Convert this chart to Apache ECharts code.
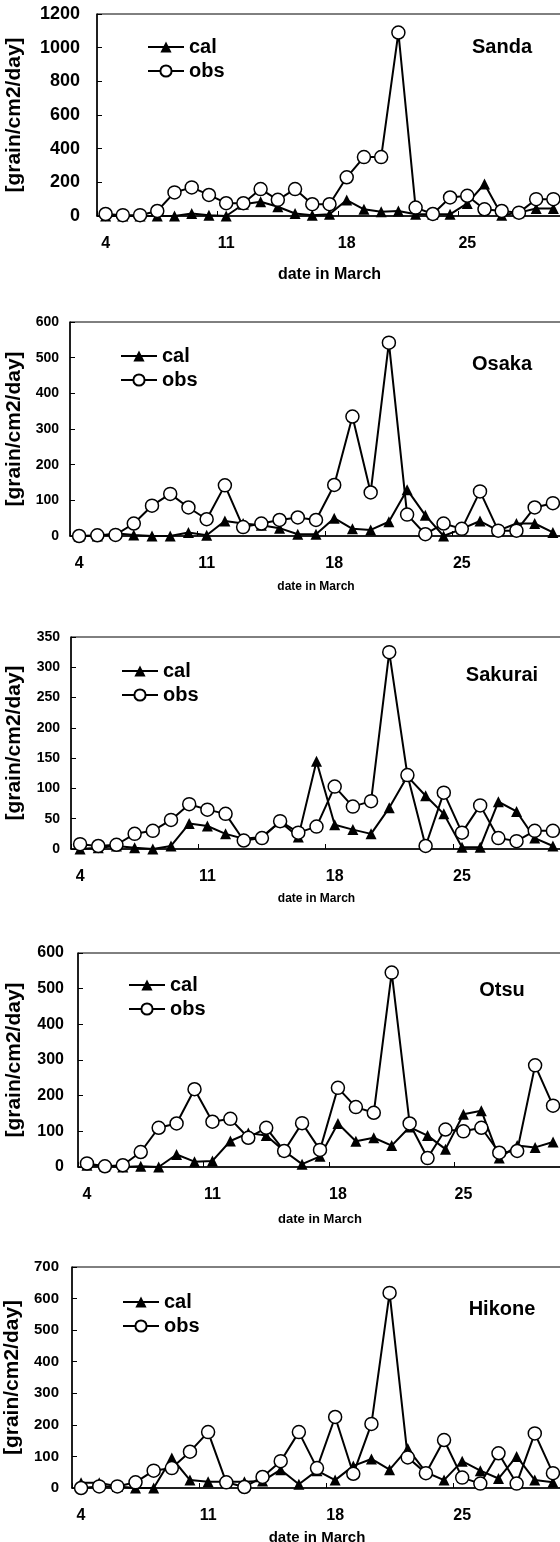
<!DOCTYPE html>
<html>
<head>
<meta charset="utf-8">
<script src="https://cdn.jsdelivr.net/npm/echarts@6/dist/echarts.min.js"></script>
<style>
html,body{margin:0;padding:0;background:#fff;}
#c{width:560px;height:1542px;}
</style>
</head>
<body>
<div id="c"></div>
<script>
// ---- data ----
const days = ['4','5','6','7','8','9','10','11','12','13','14','15','16','17','18','19','20','21','22','23','24','25','26','27','28','29','30'];
const stations = ['Sanda','Osaka','Sakurai','Otsu','Hikone'];
const yMaxes = [1200, 600, 350, 600, 700];
const yIntervals = [200, 100, 50, 100, 100];

const sandaCal = [0,0,0,0,0,15,5,0,70,85,55,15,5,10,95,40,25,30,10,10,10,75,190,5,20,45,45];
const sandaObs = [12,5,5,30,140,170,125,76,76,160,96,160,70,70,230,350,350,1090,50,12,110,120,40,30,20,100,100];

const osakaCal = [0,0,8,3,0,0,10,2,42,35,30,22,5,5,50,20,17,40,130,58,0,20,42,15,35,35,10];
const osakaObs = [0,2,3,35,85,118,80,47,142,25,35,45,52,45,143,335,122,542,60,5,35,20,125,15,15,80,92];

const sakuraiCal = [0,2,5,2,0,5,42,38,25,17,20,45,20,145,40,32,25,68,120,88,58,3,3,78,62,18,5];
const sakuraiObs = [8,5,7,25,30,48,74,65,58,14,18,46,27,37,103,70,79,325,122,5,93,27,72,18,13,30,30];

const otsuCal = [5,3,0,2,0,35,15,17,73,95,88,45,8,30,122,72,82,60,112,88,50,148,158,25,60,55,70];
const otsuObs = [10,2,5,42,110,122,218,127,135,82,110,45,123,48,222,168,152,545,122,25,105,100,110,40,45,285,172];

const hikoneCal = [17,17,5,0,0,95,25,20,20,20,22,58,12,55,25,70,92,58,125,50,25,85,55,30,100,25,18];
const hikoneObs = [0,5,5,18,55,63,115,177,18,3,35,85,177,63,225,45,203,618,97,47,152,33,14,110,14,173,47];

const calSets = [sandaCal, osakaCal, sakuraiCal, otsuCal, hikoneCal];
const obsSets = [sandaObs, osakaObs, sakuraiObs, otsuObs, hikoneObs];

// ---- layout ----
const FONT = '"Liberation Sans", Arial, sans-serif';
const L = [
  {left:97, top:14,   height:202, yFont:18, xFont:16, tFont:16, yMargin:17, xNameGap:51, yNameGap:72, legTop:37,  nameY:47},
  {left:70, top:322,  height:214, yFont:14, xFont:16, tFont:12, yMargin:11, xNameGap:45, yNameGap:45, legTop:346, nameY:364},
  {left:71, top:637,  height:212, yFont:14, xFont:16, tFont:12, yMargin:11, xNameGap:44, yNameGap:46, legTop:661, nameY:675},
  {left:78, top:953,  height:214, yFont:16, xFont:16, tFont:13, yMargin:14, xNameGap:46, yNameGap:53, legTop:975, nameY:990},
  {left:72, top:1267, height:221, yFont:15, xFont:16, tFont:15, yMargin:13, xNameGap:42, yNameGap:47, legTop:1292, nameY:1309}
];

const grid = [], xAxis = [], yAxis = [], series = [], legend = [], graphic = [];
L.forEach((p, i) => {
  grid.push({left:p.left, top:p.top, height:p.height, right:-2, containLabel:false, outerBoundsMode:'none',
    show:true, borderColor:'#000', borderWidth:1, backgroundColor:'transparent'});
  xAxis.push({
    type:'category', gridIndex:i, data:days, boundaryGap:true,
    name:'date in March', nameLocation:'middle', nameGap:p.xNameGap,
    nameTextStyle:{fontFamily:FONT, fontWeight:'bold', fontSize:p.tFont, color:'#000'},
    axisLine:{lineStyle:{color:'#000', width:1.5}},
    axisTick:{show:true, inside:true, interval:6, length:5, lineStyle:{color:'#000', width:1}},
    axisLabel:{interval:6, margin:20, fontFamily:FONT, fontWeight:'bold', fontSize:p.xFont, color:'#000'},
    splitLine:{show:false}
  });
  yAxis.push({
    type:'value', gridIndex:i, min:0, max:yMaxes[i], interval:yIntervals[i],
    name:'[grain/cm2/day]', nameLocation:'middle', nameRotate:90, nameGap:p.yNameGap,
    nameTextStyle:{fontFamily:FONT, fontWeight:'bold', fontSize:21, color:'#000'},
    axisLine:{show:true, lineStyle:{color:'#000', width:1.5}},
    axisTick:{show:true, inside:true, length:5, lineStyle:{color:'#000', width:1}},
    axisLabel:{margin:p.yMargin, fontFamily:FONT, fontWeight:'bold', fontSize:p.yFont, color:'#000', formatter:(v) => String(v)},
    splitLine:{show:false}
  });
  series.push({
    name:'cal', type:'line', xAxisIndex:i, yAxisIndex:i, data:calSets[i],
    symbol:'triangle', symbolSize:11, showAllSymbol:true,
    lineStyle:{color:'#000', width:2}, itemStyle:{color:'#000', borderColor:'#000', borderWidth:0},
    z:2, animation:false
  });
  series.push({
    name:'obs', type:'line', xAxisIndex:i, yAxisIndex:i, data:obsSets[i],
    symbol:'circle', symbolSize:13, showAllSymbol:true,
    lineStyle:{color:'#000', width:2}, itemStyle:{color:'#fff', borderColor:'#000', borderWidth:1.5},
    z:3, animation:false
  });
  legend.push({
    data:['cal','obs'], orient:'vertical', left:p.left + 50, top:p.legTop, padding:0,
    itemWidth:36, itemHeight:14, itemGap:4, selectedMode:false,
    textStyle:{fontFamily:FONT, fontWeight:'bold', fontSize:20, color:'#000', lineHeight:20}
  });
  graphic.push({
    type:'text', x:502, y:p.nameY,
    style:{text:stations[i], fill:'#000', font:'bold 20px ' + FONT, textAlign:'center', textVerticalAlign:'middle'}
  });
});

const chart = echarts.init(document.getElementById('c'), null, {renderer:'canvas'});
chart.setOption({animation:false, grid, xAxis, yAxis, series, legend, graphic});
</script>
</body>
</html>
